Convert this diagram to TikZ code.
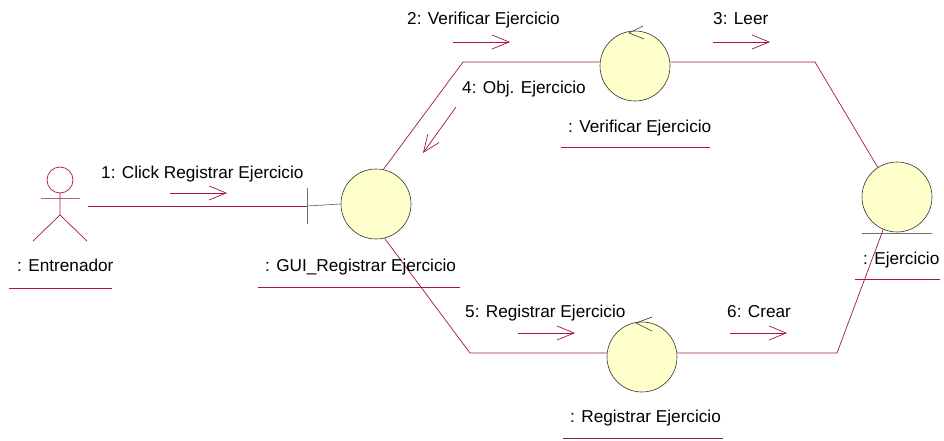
\documentclass[tikz,border=0pt]{standalone}
\usepackage{fontspec}
\setmainfont{Liberation Sans}
\usetikzlibrary{arrows.meta}
\definecolor{lnk}{RGB}{165,20,75}
\definecolor{objfill}{RGB}{255,255,204}
\definecolor{gry}{RGB}{110,110,110}
\begin{document}
\begin{tikzpicture}[x=1pt,y=-1pt,
  lbl/.style={inner sep=0pt,anchor=base west,font=\fontsize{17.2}{20}\selectfont},
  obj/.style={circle,draw=black!80,fill=objfill,line width=0.6pt,minimum size=70pt,inner sep=0pt},
  link/.style={draw=lnk,line width=0.7pt},
  msg/.style={draw=lnk,line width=0.7pt,-{Straight Barb[length=17pt,width=14pt]}},
  uline/.style={draw=lnk,line width=0.6pt},
  glyph/.style={draw=black!80,line width=0.6pt}]
\useasboundingbox (0,0) rectangle (944,441);
% objects
\node[obj] (gui) at (376,204) {};
\node[obj] (ver) at (635,66) {};
\node[obj] (ent) at (897,197) {};
\node[obj] (reg) at (642,357) {};
% actor
\coordinate (act) at (88,206);
\draw[link] (60,180) circle (13);
\draw[draw=lnk!70,line width=0.7pt] (41,198) -- (80,198);
\draw[link] (60,193) -- (60,215) -- (33,241);
\draw[link] (60,215) -- (87,241);
% boundary bar
\coordinate (bar) at (307,206);
\draw[draw=gry,line width=0.7pt] ([yshift=-18]bar) -- ([yshift=18]bar);
\draw[draw=gry,line width=0.7pt] (bar) -- (gui.west);
% control glyphs
\draw[glyph] ([shift={(8,-40)}]ver.center) -- ([shift={(-6,-33)}]ver.center) -- ([shift={(9,-27)}]ver.center);
\draw[glyph] ([shift={(10,-40)}]reg.center) -- ([shift={(-6,-34)}]reg.center) -- ([shift={(10,-26)}]reg.center);
% entity underline
\draw[draw=gry,line width=0.9pt] ([shift={(-35,36)}]ent.center) -- ([shift={(35,36)}]ent.center);
% links
\coordinate (c1) at (463,62);
\coordinate (c2) at (815,62);
\coordinate (c3) at (470,353);
\coordinate (c4) at (837,353);
\draw[link] (act) -- (bar);
\draw[link] (gui.78) -- (c1) -- (c1 -| ver.west);
\draw[link] (c2 -| ver.east) -- (c2) -- (ent.123);
\draw[link] (gui.-76) -- (c3) -- (c3 -| reg.west);
\draw[link] (c4 -| reg.east) -- (c4) -- (ent.-113);
% messages
\coordinate (m1a) at (170,193); \coordinate (m1b) at (227,193);
\coordinate (m2a) at (453,42);  \coordinate (m2b) at (510,42);
\coordinate (m3a) at (713,42);  \coordinate (m3b) at (770,42);
\coordinate (m4a) at (456,107); \coordinate (m4b) at (423,153);
\coordinate (m5a) at (518,333); \coordinate (m5b) at (575,333);
\coordinate (m6a) at (730,333); \coordinate (m6b) at (787,333);
\draw[msg] (m1a) -- (m1b);
\draw[msg] (m2a) -- (m2b);
\draw[msg] (m3a) -- (m3b);
\draw[msg] (m4a) -- (m4b);
\draw[msg] (m5a) -- (m5b);
\draw[msg] (m6a) -- (m6b);
% message labels
\node[lbl] (t1) at (101,178) {1: Click Registrar Ejercicio};
\node[lbl] (t2) at (407,25) {2: Verificar Ejercicio};
\node[lbl] (t3) at (713,25) {3: Leer};
\node[lbl] (t4) at (462,94) {4: Obj. Ejercicio};
\node[lbl] (t5) at (465,317) {5: Registrar Ejercicio};
\node[lbl] (t6) at (727,317) {6: Crear};
% object labels
\node[lbl] (lact) at (17,271) {: Entrenador};
\node[lbl] (lgui) at (265,271) {: GUI\_Registrar Ejercicio};
\node[lbl] (lver) at (568,132) {: Verificar Ejercicio};
\node[lbl] (lent) at (863,264) {: Ejercicio};
\node[lbl] (lreg) at (570,422) {: Registrar Ejercicio};
\draw[uline] (9,288) -- (112,288);
\draw[uline] (258,287) -- (460,287);
\draw[uline] (561,147) -- (710,147);
\draw[uline] (855,279) -- (940,279);
\draw[uline] (563,438) -- (723,438);
\end{tikzpicture}
\end{document}
